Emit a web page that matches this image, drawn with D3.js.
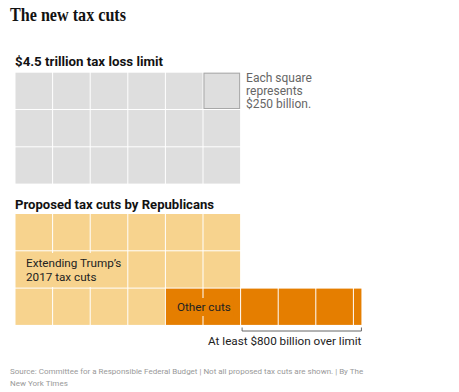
<!DOCTYPE html>
<html>
<head>
<meta charset="utf-8">
<script src="https://cdn.jsdelivr.net/npm/d3@7"></script>
<style>
  body { margin: 0; background: #fff; }
  svg text { font-family: Roboto, "Liberation Sans", Arial, sans-serif; }
</style>
</head>
<body>
<div id="graph"></div>
<script>
const width = 459;
const height = 392;

// values in trillions of dollars
const squareValue = 0.25;
const limitLabel = "$4.5 trillion tax loss limit";
const limitValue = 4.5;
const cutCategories = ["Extending Trump’s\n2017 tax cuts", "Other cuts"];
const cutValues = [4.0, 1.3];
const cutColors = ["#f7d38e", "#e57e00"];
const overLimitValue = 0.8;
const overLimitLabel = "At least $800 billion over limit";
const perRow = 6;

const left = 15.5;
const pitchX = 37.6;
const pitchY = 37.3;

const svg = d3.select("#graph")
  .append("svg")
  .attr("width", width)
  .attr("height", height)

// title
svg.append("text")
   .attr("x", 10)
   .attr("y", 21)
   .attr("textLength", 116)
   .attr("lengthAdjust", "spacingAndGlyphs")
   .style("font-family", "'Liberation Serif', 'DejaVu Serif', serif")
   .style("font-weight", "bold")
   .style("font-size", "19px")
   .attr("fill", "#121212")
   .text("The new tax cuts")

const xScale = d3.scaleLinear()
  .domain([0, perRow])
  .range([left, left + perRow * pitchX])

const yTop = d3.scaleLinear()
  .domain([0, 3])
  .range([72.7, 72.7 + 3 * pitchY])

const yBottom = d3.scaleLinear()
  .domain([0, 3])
  .range([214, 214 + 3 * pitchY])

// grid position of square k: fill rows of 6, extra squares run on in the last row
const nRows = Math.ceil(limitValue / squareValue / perRow);
function cellPos(k) {
  const full = nRows * perRow;
  if (k < full) return { col: k % perRow, row: Math.floor(k / perRow) };
  return { col: perRow + (k - full), row: nRows - 1 };
}

function makeCells(values, colors) {
  const cells = [];
  let start = 0;
  values.forEach((v, i) => {
    const n = v / squareValue;
    for (let u = 0; u < n - 1e-9; u++) {
      const k = Math.round(start + u);
      const frac = Math.min(1, n - u);
      cells.push({ k, frac, color: colors[i], group: i, ...cellPos(k) });
    }
    start += n;
  });
  return cells;
}

// top block: the limit
svg.append("text")
   .attr("x", 15)
   .attr("y", 66)
   .style("font-weight", "bold")
   .style("font-size", "13.3px")
   .attr("fill", "#121212")
   .text(limitLabel)

const limitCells = makeCells([limitValue], ["#dedede"]);

svg.append("g")
   .selectAll("rect")
   .data(limitCells)
   .join("rect")
   .attr("x", d => xScale(d.col))
   .attr("y", d => yTop(d.row))
   .attr("width", d => d.frac * pitchX - 1)
   .attr("height", pitchY - 1)
   .attr("fill", d => d.color)

// the "each square" key square
const keyCell = limitCells[perRow - 1];
svg.append("rect")
   .attr("x", xScale(keyCell.col) + 0.5)
   .attr("y", yTop(keyCell.row) + 0.5)
   .attr("width", pitchX - 2)
   .attr("height", pitchY - 2)
   .attr("fill", "none")
   .attr("stroke", "#a8a8a8")
   .attr("stroke-width", 1)

const keyLines = ["Each square", "represents", "$250 billion."];
svg.append("text")
   .attr("x", xScale(perRow) + 5)
   .attr("y", 81.5)
   .style("font-size", "12px")
   .attr("fill", "#666")
   .selectAll("tspan")
   .data(keyLines)
   .join("tspan")
   .attr("x", xScale(perRow) + 5)
   .attr("dy", (d, i) => i ? 13 : 0)
   .text(d => d)

// bottom block: proposed cuts
svg.append("text")
   .attr("x", 15)
   .attr("y", 209)
   .style("font-weight", "bold")
   .style("font-size", "13.1px")
   .attr("fill", "#121212")
   .text("Proposed tax cuts by Republicans")

const cutCells = makeCells(cutValues, cutColors);

svg.append("g")
   .selectAll("rect")
   .data(cutCells)
   .join("rect")
   .attr("x", d => xScale(d.col))
   .attr("y", d => yBottom(d.row))
   .attr("width", d => d.frac * pitchX - (d.frac < 1 ? 0 : 1))
   .attr("height", pitchY - 1)
   .attr("fill", d => d.color)

// category labels with a patch of fill colour behind them
const labelPos = [
  { x: 26, y: 267, pad: 4 },
  { x: 177, y: 311, pad: 3 }
];

cutCategories.forEach((label, i) => {
  const g = svg.append("g");
  const bg = g.append("rect").attr("fill", cutColors[i]);
  const t = g.append("text")
     .attr("x", labelPos[i].x)
     .attr("y", labelPos[i].y)
     .style("font-size", "11.7px")
     .attr("fill", "#222")
  t.selectAll("tspan")
   .data(label.split("\n"))
   .join("tspan")
   .attr("x", labelPos[i].x)
   .attr("dy", (d, j) => j ? 14 : 0)
   .text(d => d)
  const b = t.node().getBBox();
  const p = labelPos[i].pad;
  bg.attr("x", b.x - p).attr("y", b.y - p + 1)
    .attr("width", b.width + 2 * p).attr("height", b.height + 2 * p - 2)
});

// bracket for the amount over the limit
const over0 = xScale(limitValue / squareValue - (nRows - 1) * perRow);
const over1 = xScale(limitValue / squareValue - (nRows - 1) * perRow + overLimitValue / squareValue);
const by = 331;
svg.append("path")
   .attr("d", `M${over0 + 1},${by - 3.5}V${by}H${over1}V${by - 3.5}`)
   .attr("fill", "none")
   .attr("stroke", "#666")
   .attr("stroke-width", 1)

svg.append("text")
   .attr("x", over1)
   .attr("y", 345)
   .attr("text-anchor", "end")
   .style("font-size", "11.7px")
   .attr("fill", "#222")
   .text(overLimitLabel)

// source note
const sourceLines = [
  "Source: Committee for a Responsible Federal Budget | Not all proposed tax cuts are shown. | By The",
  "New York Times"
];
svg.append("text")
   .attr("x", 10)
   .attr("y", 374)
   .style("font-size", "8px")
   .attr("fill", "#999")
   .selectAll("tspan")
   .data(sourceLines)
   .join("tspan")
   .attr("x", 10)
   .attr("dy", (d, i) => i ? 12 : 0)
   .text(d => d)
</script>
</body>
</html>
